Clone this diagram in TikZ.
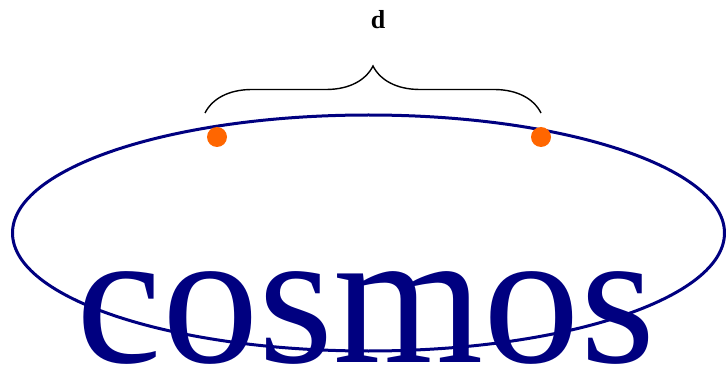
\documentclass[tikz,border=0pt]{standalone}
\usepackage{fontspec}
\setmainfont{Liberation Serif}
\usetikzlibrary{decorations.pathreplacing}
\definecolor{navyc}{HTML}{000080}
\definecolor{dotc}{HTML}{FF6600}
\tikzset{
  orbit/.style={draw=navyc, line width=3pt},
  planet/.style={circle, fill=dotc, minimum size=20pt, inner sep=0pt},
  bracec/.style={draw=black, line width=1.4pt, decorate, decoration={brace, amplitude=47pt}},
  bigword/.style={text=navyc, font=\fontsize{193}{193}\selectfont, anchor=base, inner sep=0pt},
  lbl/.style={font=\fontsize{26}{26}\selectfont\bfseries, anchor=base, inner sep=0pt}
}
\begin{document}
\begin{tikzpicture}[x=1pt,y=1pt]
\useasboundingbox (0,0) rectangle (726,370);
\draw[orbit] (368.5,137) ellipse [x radius=356, y radius=118];
\node[bigword] (word) at (366,8) {cosmos};
\node[planet] (p1) at (217,233) {};
\node[planet] (p2) at (541,233) {};
\coordinate (b1) at (205,257);
\coordinate (b2) at (541,257);
\draw[bracec] (b1) -- (b2);
\node[lbl] (d) at (378,341) {d};
\end{tikzpicture}
\end{document}
